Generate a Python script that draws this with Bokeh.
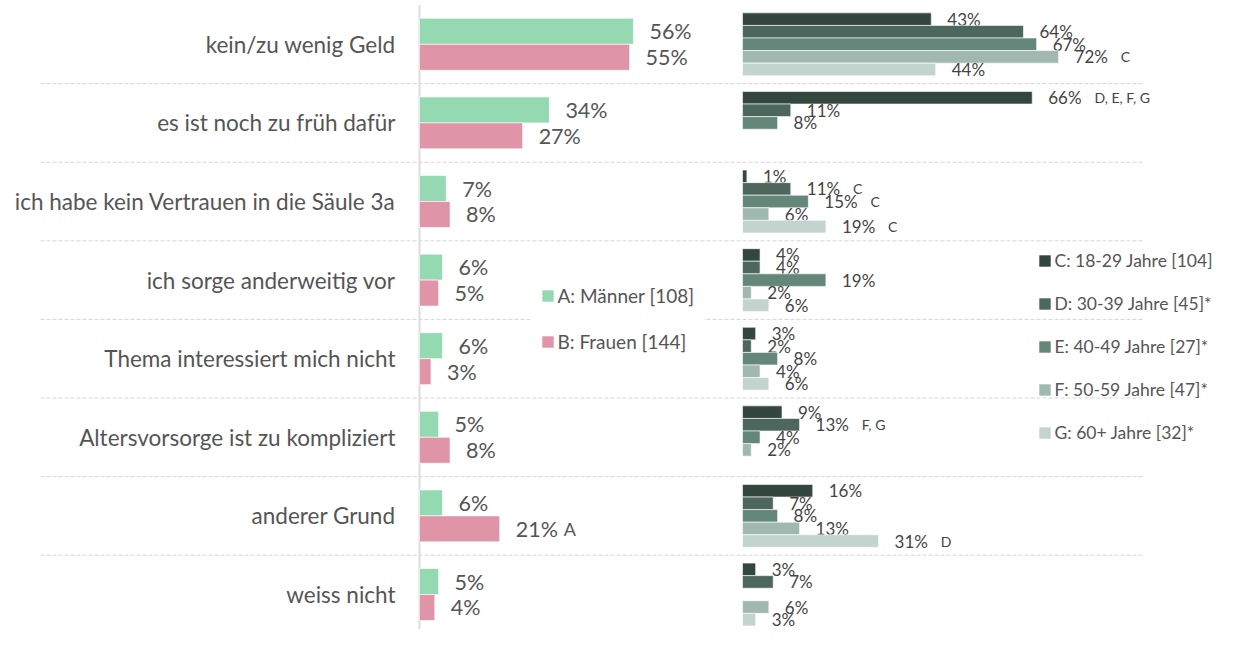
from bokeh.plotting import figure
from bokeh.models import Range1d, ColumnDataSource, Legend, LegendItem
from bokeh.core.properties import value
from bokeh.embed import file_html
from bokeh.resources import INLINE

# ---------------- data ----------------
categories = [
    "kein/zu wenig Geld",
    "es ist noch zu früh dafür",
    "ich habe kein Vertrauen in die Säule 3a",
    "ich sorge anderweitig vor",
    "Thema interessiert mich nicht",
    "Altersvorsorge ist zu kompliziert",
    "anderer Grund",
    "weiss nicht",
]

men = [56, 34, 7, 6, 6, 5, 6, 5]
women = [55, 27, 8, 5, 3, 8, 21, 4]
men_sig = ["", "", "", "", "", "", "", ""]
women_sig = ["", "", "", "", "", "", "A", ""]

age_18_29 = [43, 66, 1, 4, 3, 9, 16, 3]
age_30_39 = [64, 11, 11, 4, 2, 13, 7, 7]
age_40_49 = [67, 8, 15, 19, 8, 4, 8, None]
age_50_59 = [72, None, 6, 2, 4, 2, 13, 6]
age_60_plus = [44, None, 19, 6, 6, None, 31, 3]
sig_18_29 = ["", "D, E, F, G", "", "", "", "", "", ""]
sig_30_39 = ["", "", "C", "", "", "F, G", "", ""]
sig_40_49 = ["", "", "C", "", "", "", "", ""]
sig_50_59 = ["C", "", "", "", "", "", "", ""]
sig_60_plus = ["", "", "C", "", "", "", "D", ""]

gender_labels = ["A: Männer [108]", "B: Frauen [144]"]
age_labels = ["C: 18-29 Jahre [104]", "D: 30-39 Jahre [45]*", "E: 40-49 Jahre [27]*",
              "F: 50-59 Jahre [47]*", "G: 60+ Jahre [32]*"]

gender_colors = ["#95d9b3", "#e094a8"]
age_colors = ["#33473f", "#4d675e", "#64877a", "#a0b8af", "#c3d4cf"]

# ---------------- layout constants (pixels) ----------------
W, H = 1217, 629
FONT = "Lato"
TXT = "#555555"
TXT2 = "#444444"
L_ZERO, L_PX = 419, 3.82      # frame px of left zero, px per %
R_ZERO, R_PX = 742, 4.39
ROW_TOP, ROW_PX = 4.5, 78.6   # frame y of row 0 top, px per row


def est_width(s, size):
    w = 0.0
    for ch in s:
        if ch.isdigit():
            w += 0.58
        elif ch == "%":
            w += 0.79
        elif ch in ", ":
            w += 0.26
        else:
            w += 0.60
    return w * size


p = figure(width=W, height=H, output_backend="svg", toolbar_location=None,
           x_range=Range1d(-L_ZERO / L_PX, (W - L_ZERO) / L_PX),
           y_range=Range1d((H - ROW_TOP) / ROW_PX, (0 - ROW_TOP) / ROW_PX),
           min_border=0, outline_line_color=None)
p.extra_x_ranges = {"r": Range1d(-R_ZERO / R_PX, (W - R_ZERO) / R_PX)}
p.axis.visible = False
p.grid.visible = False
p.background_fill_color = "white"
p.border_fill_color = "white"

n = len(categories)
centers = [i + 0.5 for i in range(n)]

# separators
sep_y = list(range(1, n))
p.segment(x0=[(40 - L_ZERO) / L_PX] * len(sep_y), x1=[(1143 - L_ZERO) / L_PX] * len(sep_y),
          y0=sep_y, y1=sep_y, line_color="#d6d6d6", line_width=1, line_dash="4 2")

# vertical axis line
p.segment(x0=[0], x1=[0], y0=[0], y1=[n + 1], line_color="#dddddd", line_width=2)

# category labels
p.text(x=[0] * n, y=centers, text=categories, x_offset=-24, text_align="right",
       text_baseline="middle", text_font=value(FONT), text_font_size="22.5px", text_color=TXT)

# left bars
bh = 0.33
gender_renderers = []
for k, (vals, sigs, col) in enumerate([(men, men_sig, gender_colors[0]), (women, women_sig, gender_colors[1])]):
    ys = [c + (k - 0.5) * bh for c in centers]
    src = ColumnDataSource(dict(y=ys, v=vals, t=[f"{v}%" for v in vals]))
    r = p.hbar(y="y", right="v", left=0, height=bh, source=src, fill_color=col,
               line_color="white", line_width=0.6)
    gender_renderers.append(r)
    p.text(x="v", y="y", text="t", source=src, x_offset=16, text_align="left",
           text_baseline="middle", text_font=value(FONT), text_font_size="21.5px", text_color=TXT)
    sx, sy, st, so = [], [], [], []
    for v, yy, s in zip(vals, ys, sigs):
        if s:
            sx.append(v); sy.append(yy); st.append(s)
            so.append(16 + est_width(f"{v}%", 21.5) + 6)
    if sx:
        p.text(x=sx, y=sy, text=st, x_offset=so, text_align="left", text_baseline="middle",
               text_font=value(FONT), text_font_size="18px", text_color=TXT)

# right bars
rh = 0.16
age_series = [age_18_29, age_30_39, age_40_49, age_50_59, age_60_plus]
age_sigs = [sig_18_29, sig_30_39, sig_40_49, sig_50_59, sig_60_plus]
age_renderers = []
for k, (vals, sigs, col) in enumerate(zip(age_series, age_sigs, age_colors)):
    ys, vs, ts = [], [], []
    sx, sy, st, so = [], [], [], []
    for c, v, s in zip(centers, vals, sigs):
        if v is None:
            continue
        yy = c + (k - 2) * rh
        ys.append(yy); vs.append(v); ts.append(f"{v}%")
        if s:
            sx.append(v); sy.append(yy); st.append(s)
            so.append(16 + est_width(f"{v}%", 17) + 13)
    src = ColumnDataSource(dict(y=ys, v=vs, t=ts))
    r = p.hbar(y="y", right="v", left=0, height=rh, source=src, fill_color=col,
               line_color="white", line_width=0.6, x_range_name="r")
    age_renderers.append(r)
    p.text(x="v", y="y", text="t", source=src, x_offset=16, text_align="left",
           text_baseline="middle", text_font=value(FONT), text_font_size="17px",
           text_color=TXT2, x_range_name="r")
    if sx:
        p.text(x=sx, y=sy, text=st, x_offset=so, text_align="left", text_baseline="middle",
               text_font=value(FONT), text_font_size="14px", text_color=TXT2, x_range_name="r")

# legends
leg1 = Legend(items=[LegendItem(label=l, renderers=[r]) for l, r in zip(gender_labels, gender_renderers)],
              location=(529.5, 266), orientation="vertical",
              glyph_width=15, glyph_height=15, label_standoff=3, label_height=20,
              spacing=23, padding=10, margin=0,
              label_text_font=FONT, label_text_font_size="19px", label_text_color=TXT,
              border_line_alpha=0, background_fill_color="white", background_fill_alpha=1)
leg2 = Legend(items=[LegendItem(label=l, renderers=[r]) for l, r in zip(age_labels, age_renderers)],
              location=(1032.5, 182), orientation="vertical",
              glyph_width=15, glyph_height=15, label_standoff=3, label_height=20,
              spacing=22, padding=4, margin=0,
              label_text_font=FONT, label_text_font_size="17.5px", label_text_color=TXT,
              border_line_alpha=0, background_fill_alpha=0)
p.add_layout(leg1, "center")
p.add_layout(leg2, "center")

open("out.html", "w").write(file_html(p, INLINE))
